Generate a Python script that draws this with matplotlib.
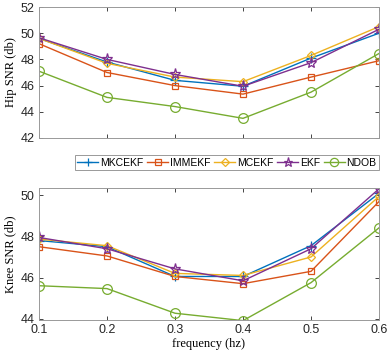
import matplotlib
matplotlib.use("Agg")
import matplotlib.pyplot as plt

freq = [0.1, 0.2, 0.3, 0.4, 0.5, 0.6]
names = ["MKCEKF", "IMMEKF", "MCEKF", "EKF", "NDOB"]

hip_mkcekf = [49.6, 47.8, 46.4, 45.95, 48.1, 50.0]
hip_immekf = [49.2, 47.0, 46.0, 45.35, 46.65, 47.9]
hip_mcekf = [49.6, 47.7, 46.65, 46.3, 48.3, 50.5]
hip_ekf = [49.65, 48.0, 46.85, 45.95, 47.75, 50.3]
hip_ndob = [47.1, 45.1, 44.4, 43.5, 45.5, 48.45]

knee_mkcekf = [47.8, 47.5, 46.05, 46.05, 47.55, 50.1]
knee_immekf = [47.5, 47.05, 46.05, 45.7, 46.3, 49.7]
knee_mcekf = [47.87, 47.55, 46.2, 46.1, 47.0, 49.95]
knee_ekf = [47.95, 47.4, 46.42, 45.84, 47.4, 50.32]
knee_ndob = [45.6, 45.46, 44.26, 43.9, 45.75, 48.42]

colors = ["#0072BD", "#D95319", "#EDB120", "#7E2F8E", "#77AC30"]
markers = ["+", "s", "D", "*", "o"]
msizes = [7, 5, 4.5, 8, 7]

fig = plt.figure(figsize=(3.89, 3.56), dpi=100)
ax1 = fig.add_axes([39/389, 1-138/356, 340/389, 131/356])
ax2 = fig.add_axes([39/389, 1-320/356, 340/389, 132/356])

serif = ["Liberation Serif", "DejaVu Serif"]
sans = ["Liberation Sans", "DejaVu Sans"]

def draw(ax, series):
    handles = []
    for s, c, m, ms, n in zip(series, colors, markers, msizes, names):
        h, = ax.plot(freq, s, color=c, marker=m, markersize=ms,
                     markerfacecolor="none", markeredgewidth=0.9, linewidth=1.0, label=n)
        handles.append(h)
    ax.set_xlim(0.1, 0.6)
    ax.set_xticks(freq)
    ax.tick_params(direction="in", length=3, width=0.6, colors="0.15", labelsize=9,
                   top=True, right=True, pad=3)
    for lab in ax.get_xticklabels() + ax.get_yticklabels():
        lab.set_family(sans)
    for sp in ax.spines.values():
        sp.set_color("0.6")
        sp.set_linewidth(0.7)
    return handles

handles = draw(ax1, [hip_mkcekf, hip_immekf, hip_mcekf, hip_ekf, hip_ndob])
ax1.set_ylim(42, 52)
ax1.set_yticks([42, 44, 46, 48, 50, 52])
ax1.set_xticklabels([])
ax1.set_ylabel("Hip SNR (db)", family=serif, fontsize=9, labelpad=3)

draw(ax2, [knee_mkcekf, knee_immekf, knee_mcekf, knee_ekf, knee_ndob])
ax2.set_ylim(43.93, 50.36)
ax2.set_yticks([44, 46, 48, 50])
ax2.set_xticklabels(["0.1", "0.2", "0.3", "0.4", "0.5", "0.6"])
for lab in ax2.get_xticklabels():
    lab.set_family(sans)
ax2.set_ylabel("Knee SNR (db)", family=serif, fontsize=9, labelpad=3)
ax2.set_xlabel("frequency (hz)", family=serif, fontsize=9, labelpad=1)

leg = fig.legend(handles=handles, loc="upper right", bbox_to_anchor=(379/389, 1-155/356),
                 ncol=5, prop={"family": sans, "size": 7.5}, frameon=True,
                 fancybox=False, handlelength=2.0, handletextpad=0.15, columnspacing=0.4,
                 borderpad=0.25, borderaxespad=0, markerscale=0.85)
leg.get_frame().set_edgecolor("0.5")
leg.get_frame().set_linewidth(0.7)

fig.savefig("out.png", dpi=100)
